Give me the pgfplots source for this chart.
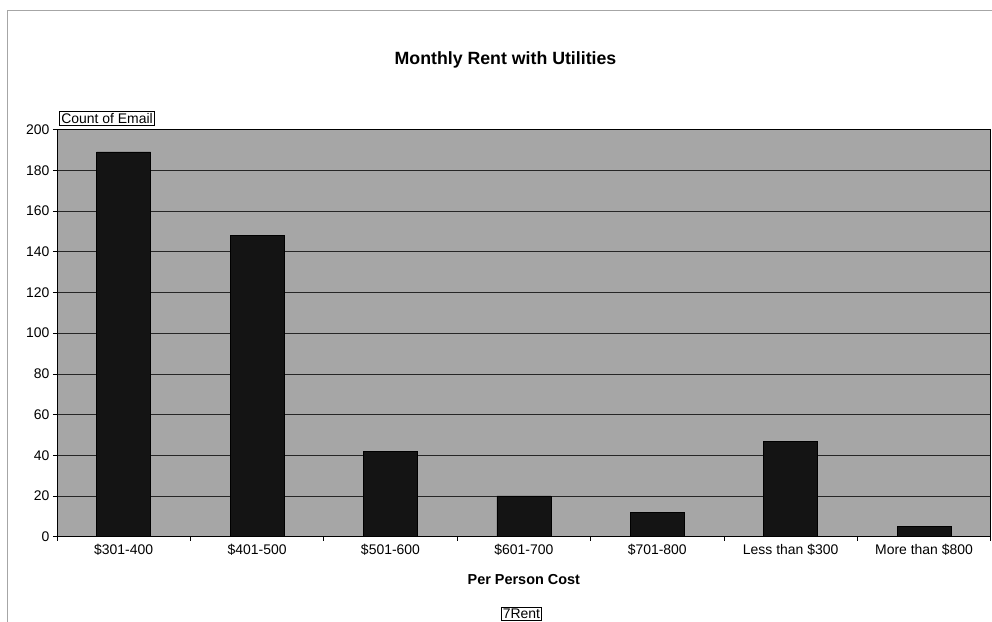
\documentclass[border=0pt]{standalone}
\usepackage{pgfplots}
\pgfplotsset{compat=1.18}
\usepackage{fontspec}
\setmainfont{Liberation Sans}
\begin{document}
\begin{tikzpicture}[x=1bp,y=1bp]
\useasboundingbox (0,0) rectangle (992,622);
\draw[gray!70, line width=0.8bp] (7.5,0) -- (7.5,612) -- (992,612);
\node[font=\fontsize{17.8}{20}\selectfont\bfseries] at (505.5,562) {Monthly Rent with Utilities};
\begin{axis}[
 at={(57bp,85.3bp)}, anchor=south west, scale only axis,
 width=933.7bp, height=407.2bp,
 ybar, bar width=54bp,
 xmin=-0.5, xmax=6.5, ymin=0, ymax=200,
 ytick={0,20,...,200},
 ymajorgrids, grid style={black!85, line width=0.6bp},
 xtick={0,...,6},
 xticklabels={\$301-400,\$401-500,\$501-600,\$601-700,\$701-800,Less than \$300,More than \$800},
 major x tick style={draw=none},
 minor xtick={-0.5,0.5,...,6.5},
 xtick pos=bottom, ytick pos=left,
 tick align=outside, major tick length=4bp, minor tick length=4bp,
 tick style={black, line width=0.6bp},
 axis line style={black, line width=0.8bp},
 axis background/.style={fill=black!35},
 ticklabel style={font=\fontsize{14}{16}\selectfont},
 /pgf/number format/assume math mode=true,
 xlabel={Per Person Cost},
 xlabel style={font=\fontsize{14.5}{16}\selectfont\bfseries, at={(axis description cs:0.5,0)}, anchor=center, yshift=-43bp},
]
\addplot[fill=black!92, draw=black] coordinates {(0,189) (1,148) (2,42) (3,20) (4,12) (5,47) (6,5)};
\end{axis}
\node[draw=black, line width=0.6bp, fill=white, inner sep=2bp, anchor=south west, font=\fontsize{14}{16}\selectfont] at (59,496) {Count of Email};
\node[draw=black, line width=0.6bp, fill=white, inner sep=1.5bp, font=\fontsize{14}{16}\selectfont] at (521.5,8.5) {7Rent};
\end{tikzpicture}
\end{document}
